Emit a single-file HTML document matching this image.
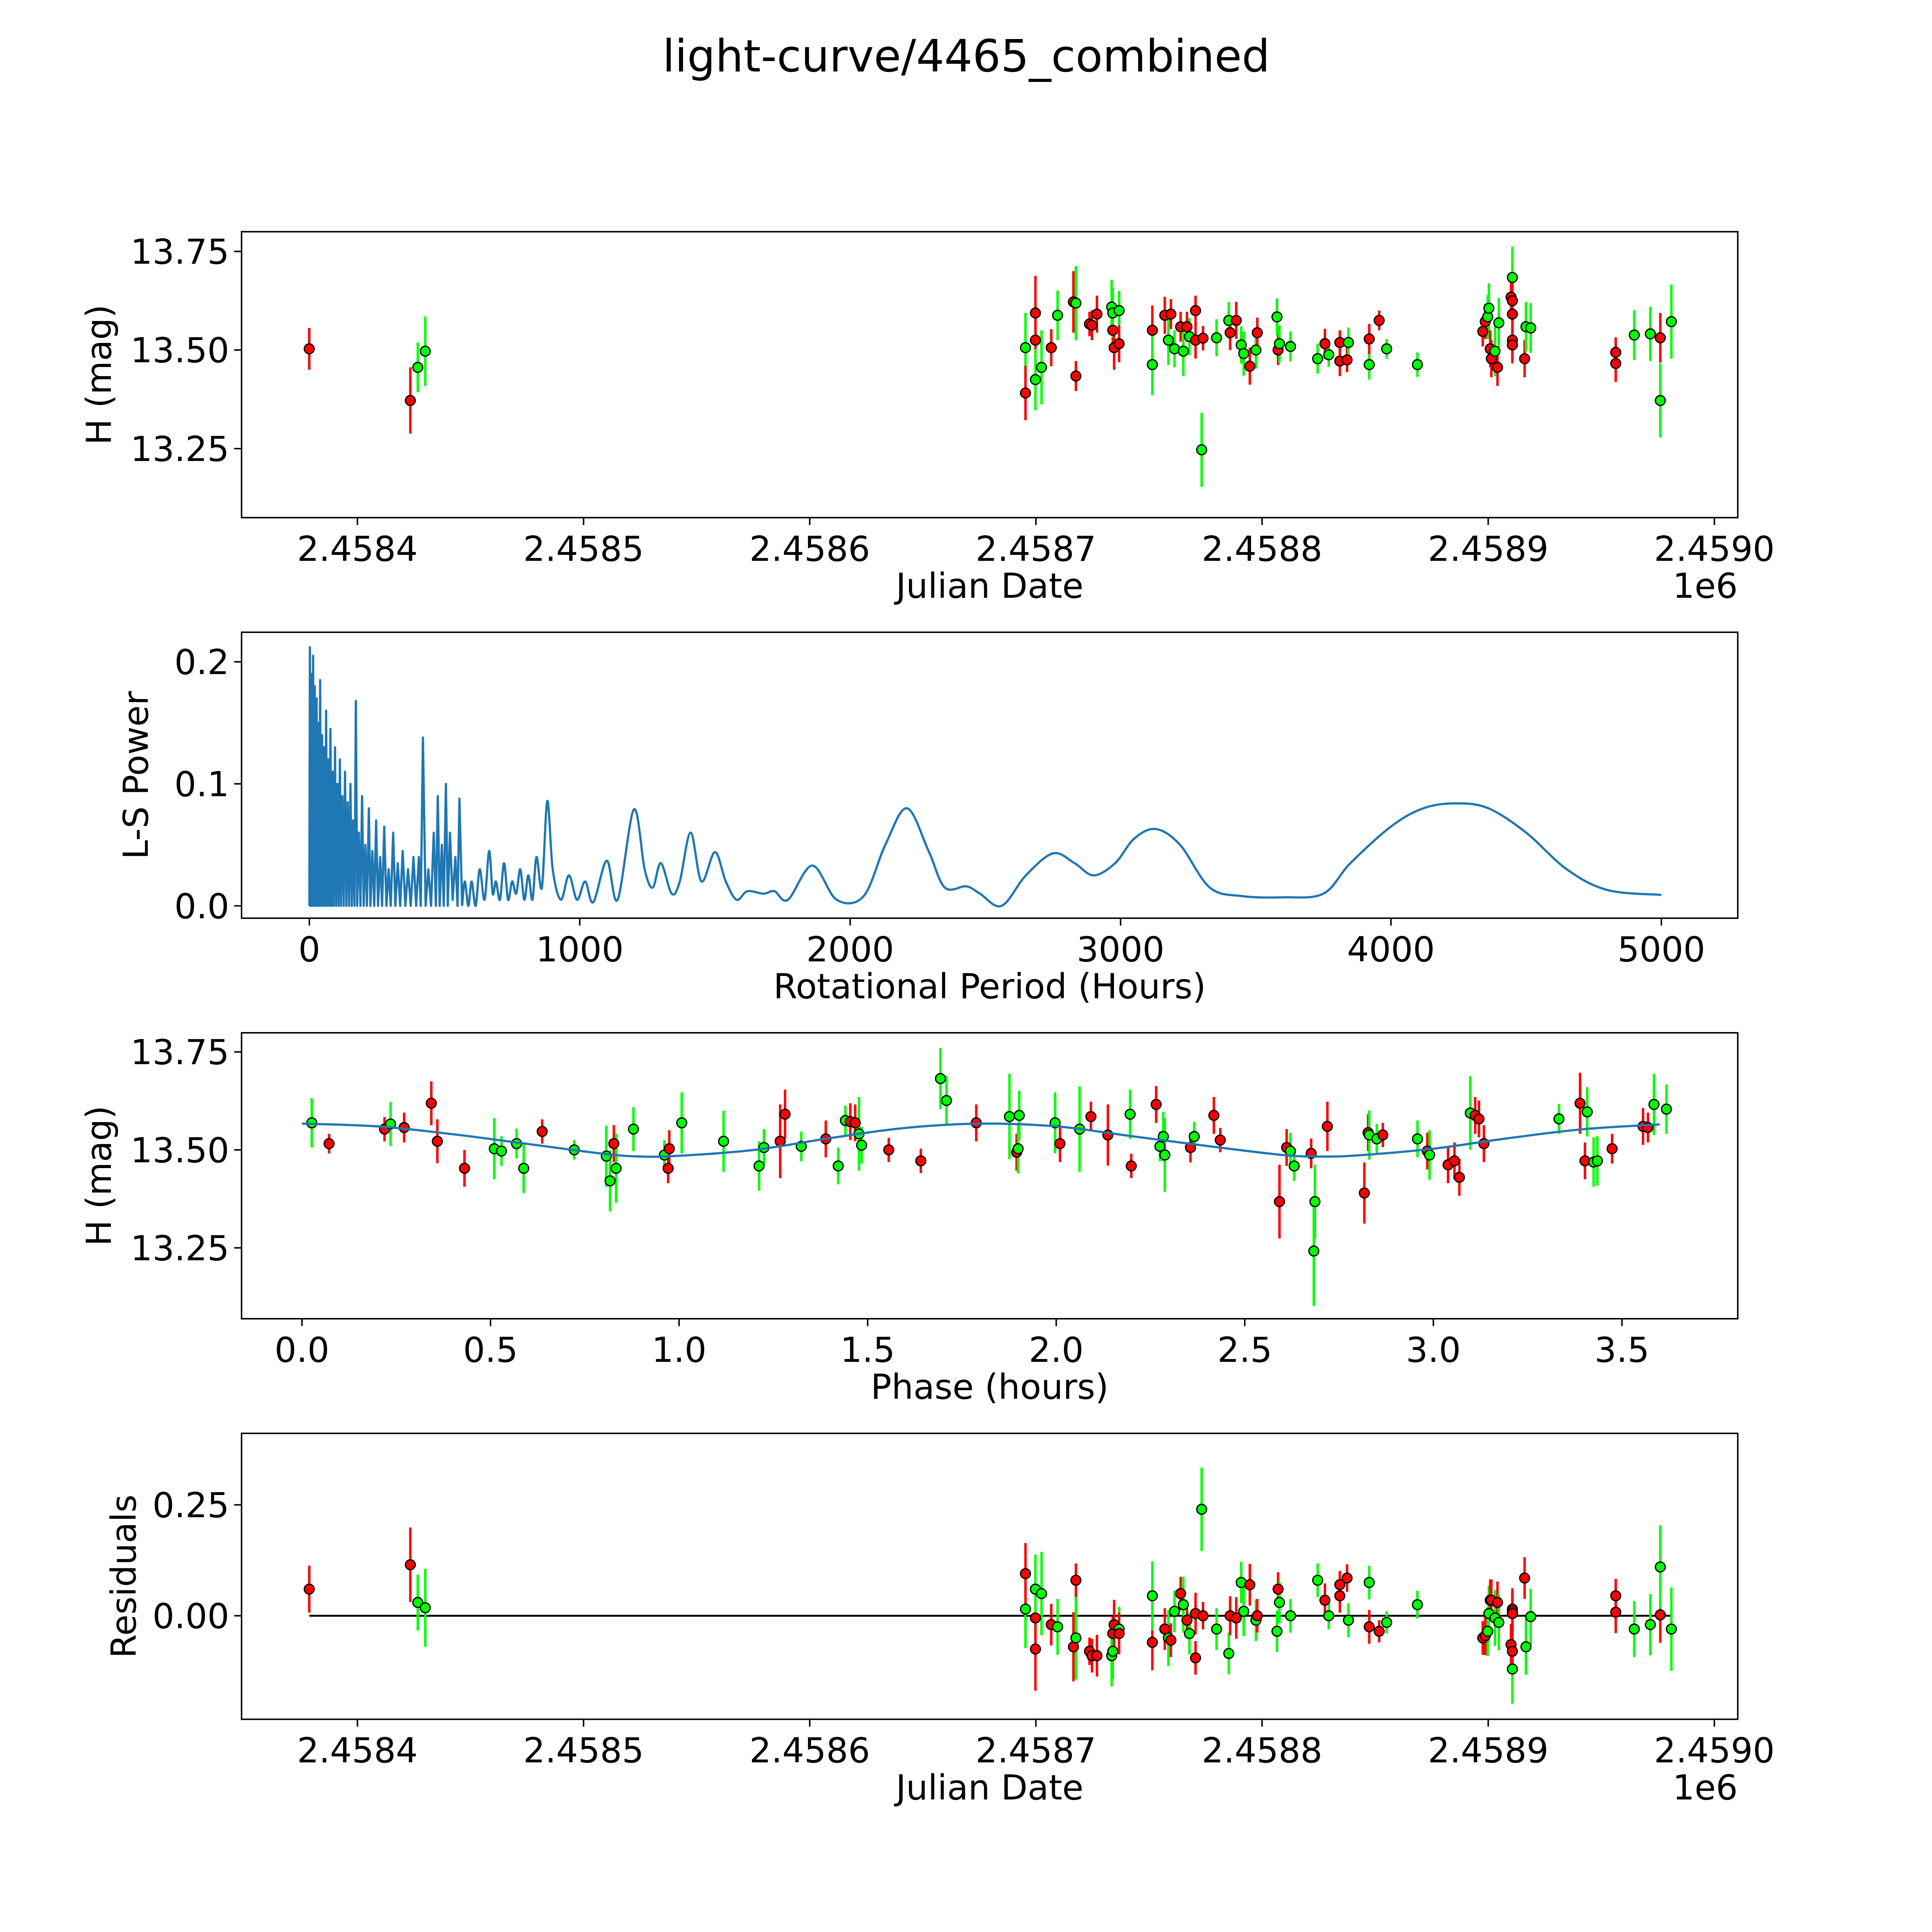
<!DOCTYPE html>
<html><head><meta charset="utf-8"><style>
html,body{margin:0;padding:0;background:#fff;width:5400px;height:5400px;overflow:hidden;}
svg{display:block;font-family:"DejaVu Sans","Liberation Sans",sans-serif;width:5400px;height:5400px;}
</style></head><body>
<svg id="fig" width="5400" height="5400" viewBox="0 0 1693 1693" preserveAspectRatio="xMinYMin meet" xmlns="http://www.w3.org/2000/svg">
<rect x="0" y="0" width="1693" height="1693" fill="#fff"/>
<text x="784" y="58" font-size="36" text-anchor="middle">light-curve/4465_combined</text>
</svg>
<script>
// ---------- DATA ----------
const obsTime = [378.7,423.4,426.7,430,695.4,695.4,699.8,699.8,699.8,702.5,706.8,709.6,716.6,717.7,717.7,723.7,724.8,727,733.5,734,734,734.6,736.8,736.8,751.5,751.5,757,758.6,759.7,761.3,764,765.2,766.8,767.9,770.6,770.6,773.3,773.9,779.9,785.3,785.9,788.6,790.8,791.9,794.6,797.3,797.9,806.6,807.1,807.7,812.6,824.6,827.8,829.5,834.4,834.4,837.6,838.2,847.4,847.4,851.8,855.1,868.7,897.6,898.7,899.8,900.3,900.9,901.4,903,904.1,904.7,910.1,910.7,910.7,910.7,910.7,910.7,916.1,916.7,918.8,956.4,956.4,964.6,971.7,976.1,976.1,981];
const obsMag = [13.503,13.372,13.456,13.497,13.506,13.391,13.594,13.525,13.425,13.456,13.506,13.588,13.622,13.619,13.434,13.566,13.563,13.591,13.609,13.55,13.594,13.506,13.6,13.516,13.55,13.463,13.588,13.525,13.591,13.503,13.559,13.497,13.559,13.534,13.6,13.525,13.247,13.53,13.531,13.575,13.544,13.575,13.513,13.491,13.459,13.5,13.544,13.584,13.5,13.516,13.509,13.478,13.516,13.488,13.519,13.472,13.475,13.519,13.463,13.528,13.575,13.503,13.463,13.547,13.572,13.584,13.606,13.503,13.478,13.497,13.456,13.569,13.634,13.684,13.625,13.591,13.525,13.513,13.478,13.559,13.556,13.494,13.466,13.538,13.541,13.531,13.372,13.572];
const obsErr = [.053,.084,.063,.088,.088,.069,.094,.063,.078,.094,.047,.063,.078,.094,.038,.031,.038,.047,.069,.038,.063,.056,.05,.047,.063,.078,.047,.063,.038,.047,.038,.063,.038,.047,.038,.047,.094,.031,.047,.047,.044,.047,.047,.056,.047,.047,.038,.047,.038,.047,.038,.038,.038,.031,.031,.038,.031,.038,.038,.038,.025,.025,.031,.038,.044,.056,.063,.047,.047,.063,.047,.063,.047,.078,.047,.047,.047,.047,.047,.063,.063,.038,.047,.063,.069,.063,.094,.094];
const obsBand = ["r","r","g","g","g","r","r","r","g","g","r","g","r","g","r","r","r","r","g","r","g","r","g","r","r","g","r","g","r","g","r","g","r","g","r","r","g","r","g","g","r","r","g","g","r","g","r","g","r","g","g","g","r","g","r","r","r","g","g","r","r","g","g","r","r","g","g","r","r","g","r","g","r","g","r","r","r","r","r","g","g","r","r","g","g","r","g","g"];
const residuals = [0.06,0.115,0.03,0.018,0.015,0.095,-0.075,-0.005,0.06,0.05,-0.02,-0.025,-0.07,-0.05,0.08,-0.08,-0.09,-0.09,-0.09,-0.04,-0.08,-0.02,-0.03,-0.04,-0.06,0.045,-0.03,-0.05,-0.055,0.01,0.05,0.025,-0.01,-0.04,-0.095,0.005,0.24,0.0,-0.03,-0.085,0.0,-0.005,0.075,0.01,0.07,-0.01,0.0,-0.035,0.06,0.03,0.0,0.08,0.035,0.0,0.07,0.045,0.085,-0.01,0.075,-0.025,-0.035,-0.015,0.025,-0.05,-0.045,-0.035,0.005,0.035,0.035,-0.005,0.03,-0.015,-0.065,-0.12,-0.08,0.015,0.01,0.005,0.085,-0.07,-0.002,0.045,0.008,-0.03,-0.02,0.002,0.11,-0.03];

const phase = [0.026,0.072,0.219,0.235,0.271,0.343,0.359,0.431,0.51,0.529,0.569,0.588,0.637,0.722,0.807,0.827,0.817,0.833,0.879,0.961,0.971,0.974,1.007,1.118,1.212,1.225,1.268,1.281,1.324,1.389,1.422,1.441,1.454,1.467,1.477,1.484,1.556,1.641,1.693,1.709,1.788,1.876,1.895,1.899,1.902,1.997,2.01,2.062,2.092,2.137,2.199,2.196,2.265,2.275,2.284,2.288,2.356,2.366,2.418,2.435,2.592,2.611,2.621,2.631,2.676,2.686,2.683,2.719,2.817,2.827,2.83,2.85,2.866,2.958,2.984,2.99,3.039,3.056,3.069,3.098,3.111,3.121,3.134,3.333,3.389,3.402,3.408,3.425,3.435,3.474,3.556,3.569,3.585,3.618];
const phaseMag = [13.569,13.516,13.553,13.566,13.557,13.619,13.522,13.453,13.503,13.497,13.516,13.453,13.547,13.5,13.484,13.516,13.421,13.453,13.553,13.487,13.453,13.503,13.569,13.522,13.459,13.506,13.522,13.591,13.509,13.528,13.459,13.575,13.572,13.569,13.541,13.512,13.5,13.472,13.682,13.626,13.569,13.585,13.494,13.503,13.588,13.569,13.516,13.553,13.585,13.538,13.459,13.591,13.616,13.509,13.534,13.487,13.506,13.534,13.588,13.525,13.368,13.506,13.497,13.459,13.491,13.368,13.242,13.56,13.39,13.544,13.538,13.528,13.538,13.528,13.497,13.487,13.462,13.472,13.43,13.594,13.588,13.579,13.516,13.579,13.619,13.472,13.597,13.469,13.472,13.503,13.56,13.557,13.616,13.604];
const phaseErr = [.063,.025,.031,.056,.038,.056,.056,.047,.078,.038,.038,.063,.031,.025,.078,.047,.078,.088,.056,.038,.038,.047,.078,.078,.063,.047,.094,.063,.038,.047,.047,.038,.047,.047,.094,.047,.031,.031,.078,.063,.047,.109,.047,.063,.063,.078,.047,.109,.038,.078,.031,.063,.047,.038,.063,.094,.038,.038,.047,.031,.094,.047,.047,.038,.038,.094,.14,.063,.078,.047,.063,.038,.031,.047,.047,.063,.047,.047,.047,.094,.047,.047,.047,.038,.078,.047,.063,.063,.063,.038,.047,.038,.078,.063];
const phaseBand = ["g","r","r","g","r","r","r","r","g","g","g","g","r","g","g","r","g","g","g","g","r","r","g","g","g","g","r","r","g","r","g","g","r","r","g","g","r","r","g","g","r","g","r","g","g","g","r","g","r","r","r","g","r","g","g","g","r","g","r","r","r","r","g","g","r","g","g","r","r","r","g","g","r","g","r","g","r","r","r","g","r","r","r","g","r","r","g","g","g","r","r","r","g","g"];

const modelPhase = [0,0.2,0.4,0.6,0.8,0.9,1.0,1.2,1.4,1.6,1.8,2.0,2.2,2.4,2.6,2.7,2.8,3.0,3.2,3.4,3.6];
const modelMag = [13.567,13.56,13.54,13.515,13.49,13.483,13.485,13.5,13.53,13.556,13.567,13.56,13.535,13.51,13.487,13.483,13.486,13.503,13.53,13.553,13.565];

const lsPeriod = [0,2,4,8,10,14,16,20,23,27,30,33,36,40,43,47,51,55,58,62,66,70,74,78,82,86,90,95,99,104,108,113,117,122,127,132,137,142,147,152,157,162,167,172,177,183,189,195,201,207,213,220,226,233,240,247,254,262,269,277,285,293,301,310,318,327,336,345,355,365,375,385,395,405,412,420,430,440,450,460,468,475,482,490,497,505,512,520,530,540,548,555,565,575,588,600,615,630,648,665,678,690,705,720,735,750,765,780,795,810,825,840,860,880,900,930,960,990,1020,1050,1100,1140,1200,1240,1270,1300,1340,1370,1410,1450,1500,1540,1580,1620,1680,1720,1770,1860,1950,2050,2130,2210,2290,2350,2430,2480,2560,2650,2750,2830,2900,2980,3050,3130,3220,3330,3450,3600,3750,3850,4000,4120,4240,4360,4500,4650,4800,5000];
const lsPower = [0,0.212,0,0.19,0,0.205,0,0.18,0,0.17,0,0.15,0,0.185,0,0.14,0,0.13,0,0.16,0,0.12,0,0.145,0,0.11,0,0.13,0,0.10,0,0.12,0,0.09,0,0.11,0,0.085,0,0.10,0,0.07,0,0.168,0,0.06,0,0.09,0,0.05,0,0.08,0,0.045,0,0.07,0,0.04,0,0.065,0,0.03,0,0.06,0,0.035,0,0.045,0,0.03,0,0.04,0,0.04,0,0.138,0,0.03,0,0.06,0,0.09,0,0.05,0,0.10,0,0.06,0.005,0.04,0,0.088,0,0.02,0,0.02,0,0.03,0.005,0.045,0.01,0.02,0.005,0.035,0.005,0.02,0.01,0.03,0.005,0.025,0.005,0.04,0.015,0.086,0.03,0.005,0.025,0.005,0.02,0.003,0.037,0.005,0.079,0.03,0.015,0.035,0.01,0.02,0.06,0.02,0.044,0.02,0.005,0.012,0.01,0.012,0.005,0.033,0.005,0.008,0.05,0.08,0.045,0.015,0.016,0.01,0.0,0.025,0.043,0.035,0.025,0.035,0.055,0.063,0.05,0.015,0.008,0.007,0.01,0.035,0.065,0.08,0.084,0.08,0.06,0.03,0.013,0.009];

const jdTicks = [400,500,600,700,800,900,1000];
const jdTickLabels = ["2.4584","2.4585","2.4586","2.4587","2.4588","2.4589","2.4590"];
const magTicks = [13.25,13.50,13.75];
const magTickLabels = ["13.25","13.50","13.75"];
const lsXTicks = [0,1000,2000,3000,4000,5000];
const lsYTicks = [0,0.1,0.2];
const lsYTickLabels = ["0.0","0.1","0.2"];
const phTicks = [0,0.5,1,1.5,2,2.5,3,3.5];
const phTickLabels = ["0.0","0.5","1.0","1.5","2.0","2.5","3.0","3.5"];
const resTicks = [0,0.25];
const resTickLabels = ["0.00","0.25"];

// ---------- AXES ----------
const X1 = 196, X2 = 1410;
const xJD = d => 290 + (d - 400) * 1.835;
const yMag1 = m => 284 - (m - 13.5) * 320;
const xLS = p => 251 + p * 0.2194;
const yLS = v => 735 - v * 990;
const xPh = p => 245 + p * 306;
const yMag3 = m => 933 - (m - 13.5) * 318;
const yRes = r => 1311 - r * 360;

const NS = "http://www.w3.org/2000/svg";
const fig = document.getElementById("fig");
function mk(tag, attrs, parent) {
  const e = document.createElementNS(NS, tag);
  for (const k in attrs) e.setAttribute(k, attrs[k]);
  (parent || fig).appendChild(e);
  return e;
}
const colorOf = b => b === "r" ? "#ff0000" : "#00ff00";

function smoothPath(pts) {
  let d = "M" + pts[0][0].toFixed(2) + "," + pts[0][1].toFixed(2);
  for (let i = 0; i < pts.length - 1; i++) {
    const p0 = pts[Math.max(i - 1, 0)], p1 = pts[i], p2 = pts[i + 1], p3 = pts[Math.min(i + 2, pts.length - 1)];
    const c1x = p1[0] + (p2[0] - p0[0]) / 6, c1y = p1[1] + (p2[1] - p0[1]) / 6;
    const c2x = p2[0] - (p3[0] - p1[0]) / 6, c2y = p2[1] - (p3[1] - p1[1]) / 6;
    d += " C" + c1x.toFixed(2) + "," + c1y.toFixed(2) + " " + c2x.toFixed(2) + "," + c2y.toFixed(2) + " " + p2[0].toFixed(2) + "," + p2[1].toFixed(2);
  }
  return d;
}

function panel(name, top, bottom, xticks, xlabels, xf, yticks, ylabels, yf, xlab, ylab, ylabX, offsetText) {
  const g = mk("g", {});
  
  
  const frame = mk("rect", {x: X1, y: top, width: X2 - X1, height: bottom - top, fill: "none", stroke: "#000", "stroke-width": 1.2}, g);
  
  
  xticks.forEach((t, i) => {
    const x = xf(t);
    mk("line", {x1: x, x2: x, y1: bottom, y2: bottom + 6, stroke: "#000", "stroke-width": 1.2}, g);
    const tx = mk("text", {x: x, y: bottom + 35, "font-size": 28, "text-anchor": "middle"}, g);
    
    
    tx.textContent = xlabels[i];
  });
  yticks.forEach((t, i) => {
    const y = yf(t);
    mk("line", {x1: X1 - 6, x2: X1, y1: y, y2: y, stroke: "#000", "stroke-width": 1.2}, g);
    const tx = mk("text", {x: X1 - 10, y: y + 10, "font-size": 28, "text-anchor": "end"}, g);
    
    
    tx.textContent = ylabels[i];
  });
  const xl = mk("text", {x: 803, y: bottom + 65, "font-size": 28, "text-anchor": "middle"}, g);
  
  
  xl.textContent = xlab;
  const yc = (top + bottom) / 2;
  const yl = mk("text", {x: ylabX, y: yc, "font-size": 28, "text-anchor": "middle", transform: `rotate(-90 ${ylabX} ${yc})`}, g);
  
  
  yl.textContent = ylab;
  if (offsetText) {
    const o = mk("text", {x: 1410, y: bottom + 65, "font-size": 28, "text-anchor": "end"}, g);
    
    
    o.textContent = offsetText;
  }
  return g;
}

function errPoints(g, xs, ys, errs, bands, xf, yf, scale, name) {
  for (let i = 0; i < xs.length; i++) {
    const x = xf(xs[i]), y = yf(ys[i]), e = errs[i] * scale, c = colorOf(bands[i]);
    const l = mk("line", {x1: x, x2: x, y1: y - e, y2: y + e, stroke: c, "stroke-width": 2}, g);
    
    
  }
  for (let i = 0; i < xs.length; i++) {
    const c = mk("circle", {cx: xf(xs[i]), cy: yf(ys[i]), r: 4, fill: colorOf(bands[i]), stroke: "#000", "stroke-width": 1}, g);
    
    
  }
}

// Panel 1: light curve
const p1 = panel("light-curve-panel", 188, 420, jdTicks, jdTickLabels, xJD, magTicks, magTickLabels, yMag1, "Julian Date", "H (mag)", 90, "1e6");
errPoints(p1, obsTime, obsMag, obsErr, obsBand, xJD, yMag1, 320, "observation");

// Panel 2: periodogram
const p2 = panel("periodogram-panel", 513, 745, lsXTicks, lsXTicks.map(String), xLS, lsYTicks, lsYTickLabels, yLS, "Rotational Period (Hours)", "L-S Power", 120, null);
const lsSplit = lsPeriod.findIndex(p => p >= 560);
const densePts = lsPeriod.slice(0, lsSplit + 1).map((p, i) => xLS(p).toFixed(2) + "," + yLS(lsPower[i]).toFixed(2)).join(" ");
const lsDense = mk("polyline", {points: densePts, fill: "none", stroke: "#1f77b4", "stroke-width": 1.8, "stroke-linejoin": "round"}, p2);


const smoothPts = lsPeriod.slice(lsSplit).map((p, i) => [xLS(p), Math.min(yLS(0), yLS(lsPower[lsSplit + i]))]);
const lsSmooth = mk("path", {d: smoothPath(smoothPts), fill: "none", stroke: "#1f77b4", "stroke-width": 1.8}, p2);



// Panel 3: phase folded
const p3 = panel("phase-panel", 838, 1070, phTicks, phTickLabels, xPh, magTicks, magTickLabels, yMag3, "Phase (hours)", "H (mag)", 90, null);
errPoints(p3, phase, phaseMag, phaseErr, phaseBand, xPh, yMag3, 318, "phase");
const mPts = modelPhase.map((p, i) => [xPh(p), yMag3(modelMag[i])]);
const mLine = mk("path", {d: smoothPath(mPts), fill: "none", stroke: "#1f77b4", "stroke-width": 1.8}, p3);



// Panel 4: residuals
const p4 = panel("residuals-panel", 1163, 1395, jdTicks, jdTickLabels, xJD, resTicks, resTickLabels, yRes, "Julian Date", "Residuals", 110, "1e6");
const zl = mk("line", {x1: xJD(obsTime[0]), x2: xJD(obsTime[obsTime.length - 1]), y1: yRes(0), y2: yRes(0), stroke: "#000", "stroke-width": 1.5}, p4);


errPoints(p4, obsTime, residuals, obsErr, obsBand, xJD, yRes, 360, "residual");
</script>
</body></html>
